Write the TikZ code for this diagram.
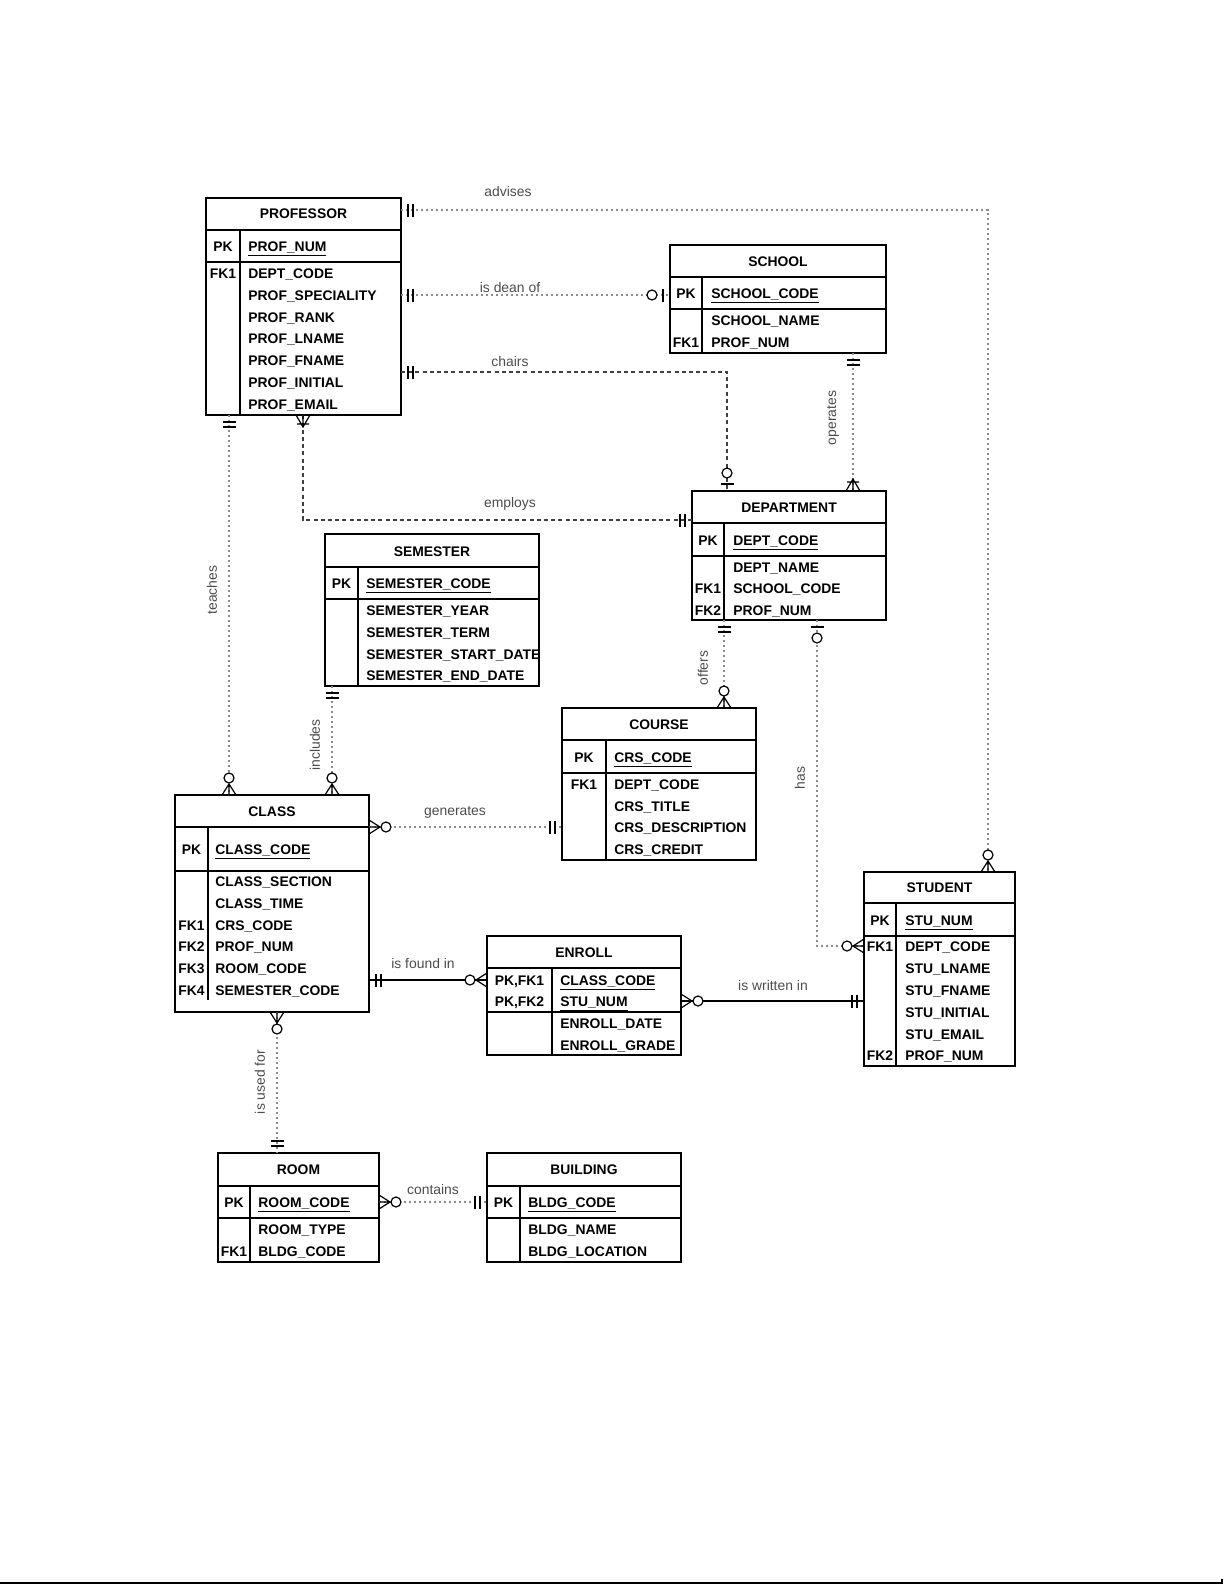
\documentclass[tikz,border=0pt]{standalone}
\usepackage{fontspec}
\setmainfont{Liberation Sans}
\definecolor{conngray}{gray}{0.55}
\definecolor{lblgray}{gray}{0.30}
\newcommand\etf{\fontsize{6.95}{8}\selectfont\bfseries}
\newcommand\lbf{\fontsize{6.95}{8}\selectfont}
\tikzset{
 ebox/.style={draw, line width=0.8pt, inner sep=0pt, outer sep=0pt},
 eline/.style={line width=0.8pt},
 etitle/.style={font=\etf, inner sep=0pt, anchor=base},
 efld/.style={font=\etf, inner sep=0pt, anchor=base west},
 ekey/.style={font=\etf, inner sep=0pt, anchor=base},
 rel/.style={font=\lbf, text=lblgray, inner sep=1pt},
 conn/.style={draw=conngray, line width=0.75pt, dash pattern=on 1.2pt off 1.3pt},
 connd/.style={draw=black!75, line width=0.75pt, dash pattern=on 2pt off 1.6pt},
 conns/.style={draw=black, line width=0.8pt},
 sym/.style={draw=black, line width=0.6pt, solid},
 crowone/.pic={\draw[sym] (7,-6.5) -- (7,6.5) (12,-6.5) -- (12,6.5);},
 crowzone/.pic={\draw[sym] (7,-6.5) -- (7,6.5); \draw[sym, fill=white] (18,0) circle (5);},
 crowzmany/.pic={\draw[sym] (0,-7) -- (11,0) -- (0,7) (0,0) -- (11,0); \draw[sym, fill=white] (17,0) circle (5);},
 crowomany/.pic={\draw[sym] (0,-7) -- (12,0) -- (0,7) (0,0) -- (12,0) (9,-6) -- (9,6);},
}
% name, x1, y1, x2, y2, header line, pk line, divider x, divider bottom
\newcommand\entbox[9]{%
 \node[ebox, anchor=north west, minimum width={(#4-#2)*0.5pt}, minimum height={(#5-#3)*0.5pt}] (#1) at (#2,#3) {};
 \draw[eline] (#1.west |- 0,#6) -- (#1.east |- 0,#6);
 \draw[eline] (#1.west |- 0,#7) -- (#1.east |- 0,#7);
 \draw[eline] (#8,#6) -- (#8,#9);
}
\newcommand\fld[4]{\node[efld] (#1) at (#2,#3+5) {#4};}
\newcommand\pkf[4]{\node[efld] (#1) at (#2,#3+5) {\underline{#4}};}
\newcommand\kcol[4]{\node[ekey] (#1) at (#2,#3+5) {#4};}
\newcommand\ttl[4]{\node[etitle] (#1) at (#2,#3+5) {#4};}
\begin{document}
\begin{tikzpicture}[x=0.5pt, y=-0.5pt]
\useasboundingbox (0,0) rectangle (1225,1585);

% ---------------- PROFESSOR
\entbox{prof}{206}{198}{401}{415}{230}{262}{240}{415}
\ttl{prof-t}{303.5}{213}{PROFESSOR}
\kcol{prof-k0}{223}{246}{PK}
\pkf{prof-f0}{248}{246}{PROF\_NUM}
\kcol{prof-k1}{223}{273}{FK1}
\fld{prof-f1}{248}{273}{DEPT\_CODE}
\fld{prof-f2}{248}{295}{PROF\_SPECIALITY}
\fld{prof-f3}{248}{317}{PROF\_RANK}
\fld{prof-f4}{248}{338}{PROF\_LNAME}
\fld{prof-f5}{248}{360}{PROF\_FNAME}
\fld{prof-f6}{248}{382}{PROF\_INITIAL}
\fld{prof-f7}{248}{404}{PROF\_EMAIL}

% ---------------- SCHOOL
\entbox{school}{670}{245}{886}{353}{277}{309}{702}{353}
\ttl{school-t}{778}{261}{SCHOOL}
\kcol{school-k0}{686}{293}{PK}
\pkf{school-f0}{711}{293}{SCHOOL\_CODE}
\fld{school-f1}{711}{320}{SCHOOL\_NAME}
\kcol{school-k1}{686}{342}{FK1}
\fld{school-f2}{711}{342}{PROF\_NUM}

% ---------------- DEPARTMENT
\entbox{dept}{692}{491}{886}{620}{523}{556}{724}{620}
\ttl{dept-t}{789}{507}{DEPARTMENT}
\kcol{dept-k0}{708}{540}{PK}
\pkf{dept-f0}{733}{540}{DEPT\_CODE}
\fld{dept-f1}{733}{567}{DEPT\_NAME}
\kcol{dept-k1}{708}{588}{FK1}
\fld{dept-f2}{733}{588}{SCHOOL\_CODE}
\kcol{dept-k2}{708}{610}{FK2}
\fld{dept-f3}{733}{610}{PROF\_NUM}

% ---------------- SEMESTER
\entbox{sem}{325}{534}{539}{686}{567}{599}{358}{686}
\ttl{sem-t}{432}{551}{SEMESTER}
\kcol{sem-k0}{341.5}{583}{PK}
\pkf{sem-f0}{366}{583}{SEMESTER\_CODE}
\fld{sem-f1}{366}{610}{SEMESTER\_YEAR}
\fld{sem-f2}{366}{632}{SEMESTER\_TERM}
\fld{sem-f3}{366}{654}{SEMESTER\_START\_DATE}
\fld{sem-f4}{366}{675}{SEMESTER\_END\_DATE}

% ---------------- COURSE
\entbox{course}{562}{708}{756}{860}{740}{773}{606}{860}
\ttl{course-t}{659}{724}{COURSE}
\kcol{course-k0}{584}{757}{PK}
\pkf{course-f0}{614}{757}{CRS\_CODE}
\kcol{course-k1}{584}{784}{FK1}
\fld{course-f1}{614}{784}{DEPT\_CODE}
\fld{course-f2}{614}{806}{CRS\_TITLE}
\fld{course-f3}{614}{827}{CRS\_DESCRIPTION}
\fld{course-f4}{614}{849}{CRS\_CREDIT}

% ---------------- CLASS
\entbox{class}{175}{795}{369}{1012}{827}{871}{208}{1000}
\ttl{class-t}{272}{811}{CLASS}
\kcol{class-k0}{191.5}{849}{PK}
\pkf{class-f0}{215}{849}{CLASS\_CODE}
\fld{class-f1}{215}{881}{CLASS\_SECTION}
\fld{class-f2}{215}{903}{CLASS\_TIME}
\kcol{class-k1}{191.5}{925}{FK1}
\fld{class-f3}{215}{925}{CRS\_CODE}
\kcol{class-k2}{191.5}{946}{FK2}
\fld{class-f4}{215}{946}{PROF\_NUM}
\kcol{class-k3}{191.5}{968}{FK3}
\fld{class-f5}{215}{968}{ROOM\_CODE}
\kcol{class-k4}{191.5}{990}{FK4}
\fld{class-f6}{215}{990}{SEMESTER\_CODE}

% ---------------- ENROLL
\entbox{enroll}{487}{936}{681}{1055}{968}{1012}{552}{1055}
\ttl{enroll-t}{584}{952}{ENROLL}
\kcol{enroll-k0}{519.5}{980}{PK,FK1}
\pkf{enroll-f0}{560}{980}{CLASS\_CODE}
\kcol{enroll-k1}{519.5}{1001}{PK,FK2}
\pkf{enroll-f1}{560}{1001}{STU\_NUM}
\fld{enroll-f2}{560}{1023}{ENROLL\_DATE}
\fld{enroll-f3}{560}{1045}{ENROLL\_GRADE}

% ---------------- STUDENT
\entbox{student}{864}{872}{1015}{1066}{903}{936}{896}{1066}
\ttl{student-t}{939.5}{887}{STUDENT}
\kcol{student-k0}{880}{920}{PK}
\pkf{student-f0}{905}{920}{STU\_NUM}
\kcol{student-k1}{880}{946}{FK1}
\fld{student-f1}{905}{946}{DEPT\_CODE}
\fld{student-f2}{905}{968}{STU\_LNAME}
\fld{student-f3}{905}{990}{STU\_FNAME}
\fld{student-f4}{905}{1012}{STU\_INITIAL}
\fld{student-f5}{905}{1034}{STU\_EMAIL}
\kcol{student-k2}{880}{1055}{FK2}
\fld{student-f6}{905}{1055}{PROF\_NUM}

% ---------------- ROOM
\entbox{room}{218}{1153}{379}{1262}{1186}{1218}{250}{1262}
\ttl{room-t}{298.5}{1169}{ROOM}
\kcol{room-k0}{234}{1202}{PK}
\pkf{room-f0}{258}{1202}{ROOM\_CODE}
\fld{room-f1}{258}{1229}{ROOM\_TYPE}
\kcol{room-k1}{234}{1251}{FK1}
\fld{room-f2}{258}{1251}{BLDG\_CODE}

% ---------------- BUILDING
\entbox{bldg}{487}{1153}{681}{1262}{1186}{1218}{520}{1262}
\ttl{bldg-t}{584}{1169}{BUILDING}
\kcol{bldg-k0}{503.5}{1202}{PK}
\pkf{bldg-f0}{528}{1202}{BLDG\_CODE}
\fld{bldg-f1}{528}{1229}{BLDG\_NAME}
\fld{bldg-f2}{528}{1251}{BLDG\_LOCATION}

% ---------------- connectors
% advises
\draw[conn] (prof.east |- 0,210) -| (student.north -| 988,0);
\pic[rotate=0] at (prof.east |- 0,210) {crowone};
\pic[rotate=90] at (student.north -| 988,0) {crowzmany};
\node[rel] (l-advises) at (508,192) {advises};
% is dean of
\draw[conn] (prof.east |- 0,295) -- (school.west |- 0,295);
\pic[rotate=0] at (prof.east |- 0,295) {crowone};
\pic[rotate=180] at (school.west |- 0,295) {crowzone};
\node[rel] (l-dean) at (510,288) {is dean of};
% chairs
\draw[connd] (prof.east |- 0,372) -| (dept.north -| 727,0);
\pic[rotate=0] at (prof.east |- 0,372) {crowone};
\pic[rotate=90] at (dept.north -| 727,0) {crowzone};
\node[rel] (l-chairs) at (510,362) {chairs};
% operates
\draw[conn] (school.south -| 853,0) -- (dept.north -| 853,0);
\pic[rotate=-90] at (school.south -| 853,0) {crowone};
\pic[rotate=90] at (dept.north -| 853,0) {crowomany};
\node[rel, rotate=90] (l-operates) at (833,418) {operates};
% employs
\draw[connd] (dept.west |- 0,520) -| (prof.south -| 303,0);
\pic[rotate=180] at (dept.west |- 0,520) {crowone};
\pic[rotate=-90] at (prof.south -| 303,0) {crowomany};
\node[rel] (l-employs) at (510,504) {employs};
% teaches
\draw[conn] (prof.south -| 229,0) -- (class.north -| 229,0);
\pic[rotate=-90] at (prof.south -| 229,0) {crowone};
\pic[rotate=90] at (class.north -| 229,0) {crowzmany};
\node[rel, rotate=90] (l-teaches) at (212,590) {teaches};
% includes
\draw[conn] (sem.south -| 332,0) -- (class.north -| 332,0);
\pic[rotate=-90] at (sem.south -| 332,0) {crowone};
\pic[rotate=90] at (class.north -| 332,0) {crowzmany};
\node[rel, rotate=90] (l-includes) at (315,745) {includes};
% offers
\draw[conn] (dept.south -| 724,0) -- (course.north -| 724,0);
\pic[rotate=-90] at (dept.south -| 724,0) {crowone};
\pic[rotate=90] at (course.north -| 724,0) {crowzmany};
\node[rel, rotate=90] (l-offers) at (703,668) {offers};
% has
\draw[conn] (dept.south -| 817,0) |- (student.west |- 0,946);
\pic[rotate=-90] at (dept.south -| 817,0) {crowzone};
\pic[rotate=180] at (student.west |- 0,946) {crowzmany};
\node[rel, rotate=90] (l-has) at (800,778) {has};
% generates
\draw[conn] (class.east |- 0,827) -- (course.west |- 0,827);
\pic[rotate=0] at (class.east |- 0,827) {crowzmany};
\pic[rotate=180] at (course.west |- 0,827) {crowone};
\node[rel] (l-generates) at (455,812) {generates};
% is found in
\draw[conns] (class.east |- 0,980) -- (enroll.west |- 0,980);
\pic[rotate=0] at (class.east |- 0,980) {crowone};
\pic[rotate=180] at (enroll.west |- 0,980) {crowzmany};
\node[rel] (l-found) at (423,964) {is found in};
% is written in
\draw[conns] (enroll.east |- 0,1001) -- (student.west |- 0,1001);
\pic[rotate=0] at (enroll.east |- 0,1001) {crowzmany};
\pic[rotate=180] at (student.west |- 0,1001) {crowone};
\node[rel] (l-written) at (773,986) {is written in};
% is used for
\draw[conn] (class.south -| 277,0) -- (room.north -| 277,0);
\pic[rotate=-90] at (class.south -| 277,0) {crowzmany};
\pic[rotate=90] at (room.north -| 277,0) {crowone};
\node[rel, rotate=90] (l-used) at (260,1082) {is used for};
% contains
\draw[conn] (room.east |- 0,1202) -- (bldg.west |- 0,1202);
\pic[rotate=0] at (room.east |- 0,1202) {crowzmany};
\pic[rotate=180] at (bldg.west |- 0,1202) {crowone};
\node[rel] (l-contains) at (433,1190) {contains};

% page edge line
\draw[line width=1pt] (0,1583) -- (1222,1583) -- (1222,1579);
\end{tikzpicture}
\end{document}
